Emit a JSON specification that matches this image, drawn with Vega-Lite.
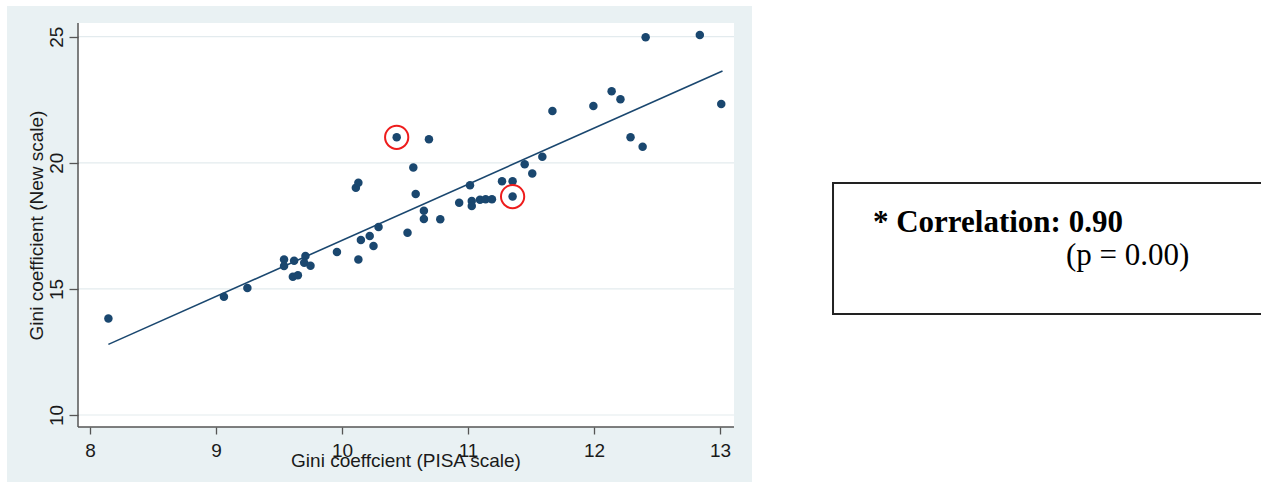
{
  "$schema": "https://vega.github.io/schema/vega-lite/v6.json",
  "width": 1261,
  "height": 482,
  "autosize": "none",
  "padding": 0,
  "background": "white",
  "config": {"view": {"stroke": null}},
  "datasets": {
    "pts": [
      {"pisa": 8.146, "newscale": 13.83, "circled": false},
      {"pisa": 9.063, "newscale": 14.69, "circled": false},
      {"pisa": 9.249, "newscale": 15.04, "circled": false},
      {"pisa": 9.54, "newscale": 16.17, "circled": false},
      {"pisa": 9.54, "newscale": 15.91, "circled": false},
      {"pisa": 9.62, "newscale": 16.12, "circled": false},
      {"pisa": 9.61, "newscale": 15.48, "circled": false},
      {"pisa": 9.65, "newscale": 15.54, "circled": false},
      {"pisa": 9.71, "newscale": 16.3, "circled": false},
      {"pisa": 9.7, "newscale": 16.04, "circled": false},
      {"pisa": 9.75, "newscale": 15.92, "circled": false},
      {"pisa": 9.96, "newscale": 16.46, "circled": false},
      {"pisa": 10.13, "newscale": 16.17, "circled": false},
      {"pisa": 10.15, "newscale": 16.94, "circled": false},
      {"pisa": 10.22, "newscale": 17.1, "circled": false},
      {"pisa": 10.25, "newscale": 16.7, "circled": false},
      {"pisa": 10.29, "newscale": 17.45, "circled": false},
      {"pisa": 10.11, "newscale": 19.01, "circled": false},
      {"pisa": 10.13, "newscale": 19.21, "circled": false},
      {"pisa": 10.434, "newscale": 21.01, "circled": true},
      {"pisa": 10.566, "newscale": 19.81, "circled": false},
      {"pisa": 10.585, "newscale": 18.76, "circled": false},
      {"pisa": 10.52, "newscale": 17.23, "circled": false},
      {"pisa": 10.65, "newscale": 18.1, "circled": false},
      {"pisa": 10.65, "newscale": 17.77, "circled": false},
      {"pisa": 10.69, "newscale": 20.93, "circled": false},
      {"pisa": 10.78, "newscale": 17.76, "circled": false},
      {"pisa": 10.93, "newscale": 18.42, "circled": false},
      {"pisa": 11.016, "newscale": 19.11, "circled": false},
      {"pisa": 11.03, "newscale": 18.49, "circled": false},
      {"pisa": 11.03, "newscale": 18.29, "circled": false},
      {"pisa": 11.095, "newscale": 18.53, "circled": false},
      {"pisa": 11.14, "newscale": 18.55, "circled": false},
      {"pisa": 11.19, "newscale": 18.55, "circled": false},
      {"pisa": 11.27, "newscale": 19.27, "circled": false},
      {"pisa": 11.354, "newscale": 19.27, "circled": false},
      {"pisa": 11.354, "newscale": 18.66, "circled": true},
      {"pisa": 11.45, "newscale": 19.94, "circled": false},
      {"pisa": 11.51, "newscale": 19.58, "circled": false},
      {"pisa": 11.59, "newscale": 20.24, "circled": false},
      {"pisa": 11.67, "newscale": 22.05, "circled": false},
      {"pisa": 11.995, "newscale": 22.25, "circled": false},
      {"pisa": 12.14, "newscale": 22.84, "circled": false},
      {"pisa": 12.21, "newscale": 22.52, "circled": false},
      {"pisa": 12.29, "newscale": 21.01, "circled": false},
      {"pisa": 12.386, "newscale": 20.64, "circled": false},
      {"pisa": 12.41, "newscale": 24.98, "circled": false},
      {"pisa": 12.84, "newscale": 25.07, "circled": false},
      {"pisa": 13.01, "newscale": 22.33, "circled": false}
    ],
    "fit": [
      {"pisa": 8.146, "newscale": 12.8},
      {"pisa": 13.02, "newscale": 23.64}
    ],
    "grid": [{"g": 10}, {"g": 15}, {"g": 20}, {"g": 25}]
  },
  "layer": [
    {
      "data": {"values": [{}]},
      "mark": {"type": "rect", "fill": "#e9f1f3"},
      "encoding": {
        "x": {"datum": 7.3413, "type": "quantitative"},
        "x2": {"datum": 13.254},
        "y": {"datum": 26.217, "type": "quantitative"},
        "y2": {"datum": 7.2}
      }
    },
    {
      "data": {"values": [{}]},
      "mark": {"type": "rect", "fill": "#ffffff"},
      "encoding": {
        "x": {"datum": 7.9048, "type": "quantitative"},
        "x2": {"datum": 13.1111},
        "y": {"datum": 25.543, "type": "quantitative"},
        "y2": {"datum": 9.524}
      }
    },
    {
      "data": {"name": "grid"},
      "mark": {"type": "rule", "stroke": "#e3ebee", "strokeWidth": 1.2},
      "encoding": {
        "x": {"datum": 7.9048, "type": "quantitative"},
        "x2": {"datum": 13.1111},
        "y": {"field": "g", "type": "quantitative"}
      }
    },
    {
      "data": {"values": [{}]},
      "mark": {"type": "rule", "stroke": "#555555", "strokeWidth": 1.5},
      "encoding": {
        "x": {"datum": 7.9048, "type": "quantitative"},
        "y": {"datum": 25.543, "type": "quantitative"},
        "y2": {"datum": 9.524}
      }
    },
    {
      "data": {"values": [{}]},
      "mark": {"type": "rule", "stroke": "#555555", "strokeWidth": 1.5},
      "encoding": {
        "x": {"datum": 7.9048, "type": "quantitative"},
        "x2": {"datum": 13.1111},
        "y": {"datum": 9.524, "type": "quantitative"}
      }
    },
    {
      "data": {"name": "fit"},
      "mark": {"type": "line", "stroke": "#1a476f", "strokeWidth": 1.6},
      "encoding": {
        "x": {"field": "pisa", "type": "quantitative"},
        "y": {"field": "newscale", "type": "quantitative"}
      }
    },
    {
      "data": {"name": "pts"},
      "mark": {"type": "point", "shape": "circle", "filled": true, "size": 72, "color": "#1a476f", "opacity": 1},
      "encoding": {
        "x": {
          "field": "pisa",
          "type": "quantitative",
          "scale": {"domain": [7.2857, 17.2937], "nice": false, "zero": false},
          "axis": {
            "values": [8, 9, 10, 11, 12, 13],
            "format": "d",
            "offset": -55,
            "domain": false,
            "grid": false,
            "tickSize": 7,
            "tickColor": "#555555",
            "tickWidth": 1.3,
            "labelFont": "Liberation Sans",
            "labelFontSize": 19,
            "labelColor": "#1a1a1a",
            "labelBaseline": "alphabetic",
            "labelAlign": "center",
            "labelPadding": 22,
            "labelFlush": false,
            "labelOverlap": false,
            "labelBound": false,
            "title": "Gini coeffcient (PISA scale)",
            "titleFont": "Liberation Sans",
            "titleFontSize": 19,
            "titleFontWeight": "normal",
            "titleColor": "#1a1a1a",
            "titleX": 405.5,
            "titleY": 39.7,
            "titleBaseline": "alphabetic",
            "titleAlign": "center",
            "zindex": 1
          }
        },
        "y": {
          "field": "newscale",
          "type": "quantitative",
          "scale": {"domain": [7.343, 26.455], "nice": false, "zero": false},
          "axis": {
            "values": [10, 15, 20, 25],
            "format": "d",
            "offset": -78,
            "domain": false,
            "grid": false,
            "tickSize": 9,
            "tickColor": "#555555",
            "tickWidth": 1.3,
            "labelFont": "Liberation Sans",
            "labelFontSize": 19,
            "labelColor": "#1a1a1a",
            "labelAngle": -90,
            "labelAlign": "center",
            "labelBaseline": "alphabetic",
            "labelPadding": 7,
            "labelFlush": false,
            "labelOverlap": false,
            "labelBound": false,
            "title": "Gini coefficient (New scale)",
            "titleFont": "Liberation Sans",
            "titleFontSize": 19,
            "titleFontWeight": "normal",
            "titleColor": "#1a1a1a",
            "titleAngle": 270,
            "titleX": -36,
            "titleY": 225,
            "titleBaseline": "alphabetic",
            "titleAlign": "center",
            "zindex": 1
          }
        }
      }
    },
    {
      "data": {"name": "pts"},
      "transform": [{"filter": "datum.circled"}],
      "mark": {"type": "point", "shape": "circle", "filled": false, "size": 540, "stroke": "#ee1c1c", "strokeWidth": 2, "opacity": 1},
      "encoding": {
        "x": {"field": "pisa", "type": "quantitative"},
        "y": {"field": "newscale", "type": "quantitative"}
      }
    },
    {
      "data": {"values": [{}]},
      "mark": {"type": "rect", "fill": "#ffffff", "stroke": "#222222", "strokeWidth": 2},
      "encoding": {
        "x": {"datum": 13.897, "type": "quantitative"},
        "x2": {"datum": 17.34},
        "y": {"datum": 19.199, "type": "quantitative"},
        "y2": {"datum": 14.005}
      }
    },
    {
      "data": {"values": [{}]},
      "mark": {"type": "text", "font": "Liberation Serif", "fontSize": 31, "fontWeight": "bold", "align": "left", "baseline": "alphabetic", "color": "#000000"},
      "encoding": {
        "x": {"datum": 14.214, "type": "quantitative"},
        "y": {"datum": 17.256, "type": "quantitative"},
        "text": {"value": "* Correlation: 0.90"}
      }
    },
    {
      "data": {"values": [{}]},
      "mark": {"type": "text", "font": "Liberation Serif", "fontSize": 31, "fontWeight": "normal", "align": "left", "baseline": "alphabetic", "color": "#000000"},
      "encoding": {
        "x": {"datum": 15.746, "type": "quantitative"},
        "y": {"datum": 15.928, "type": "quantitative"},
        "text": {"value": "(p = 0.00)"}
      }
    }
  ]
}
